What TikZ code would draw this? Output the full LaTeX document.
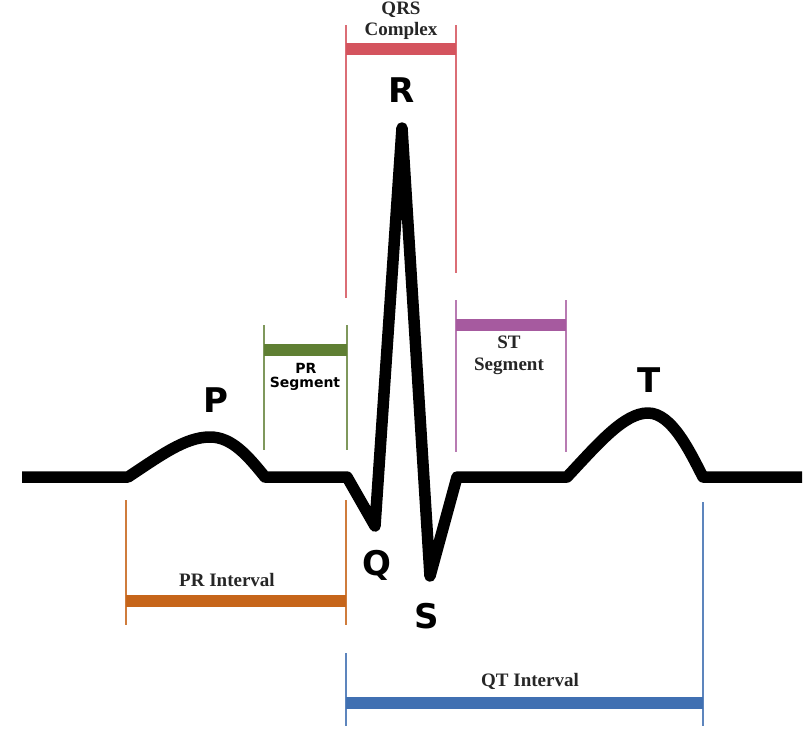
\documentclass[tikz,border=0pt]{standalone}
\usepackage{fontspec}
\setmainfont{Liberation Serif}
\newfontfamily\djv{DejaVu Sans}
\definecolor{qrsred}{HTML}{D4545E}
\definecolor{prgreen}{HTML}{5F7F33}
\definecolor{stpurple}{HTML}{A65A9F}
\definecolor{prorange}{HTML}{C6651A}
\definecolor{qtblue}{HTML}{4070B2}
\begin{document}
\begin{tikzpicture}[x=1pt,y=-1pt,
  wave/.style={line width=11.5pt, line join=round, line cap=butt},
  tick/.style={line width=1.8pt},
  bar/.style={line width=11.5pt, line cap=butt},
  wavelbl/.style={font=\djv\bfseries\fontsize{34}{34}\selectfont, inner sep=0pt, anchor=base},
  seglbl/.style={font=\djv\bfseries\fontsize{14}{14}\selectfont, inner sep=0pt, anchor=base},
  intlbl/.style={font=\bfseries\fontsize{19}{19}\selectfont, inner sep=0pt, anchor=base, text=black!85}
]
\useasboundingbox (0,0) rectangle (812,745);

% ECG waveform
\draw[wave] (22,477) -- (128,477)
  .. controls (160,456) and (185,437) .. (210,437)
  .. controls (232,437) and (248,456) .. (265,477)
  -- (347,477) -- (375,526) -- (402,128) -- (430,576) -- (457,477) -- (567,477)
  .. controls (598,444) and (624,413) .. (648,413)
  .. controls (672,413) and (690,452) .. (703,477) -- (802,477);

% QRS complex
\coordinate (qrsA) at (346,49);
\coordinate (qrsB) at (456,49);
\draw[tick, qrsred!85] (346,25) -- (346,298);
\draw[tick, qrsred!85] (456,25) -- (456,273);
\draw[bar, qrsred] (qrsA) -- (qrsB);
\node[intlbl] (qrs1) at (401,14.5) {QRS};
\node[intlbl] (qrs2) at (401,35) {Complex};

% PR segment
\coordinate (prsA) at (264,350);
\coordinate (prsB) at (347,350);
\draw[tick, prgreen!80] (264,325) -- (264,450);
\draw[tick, prgreen!80] (347,325) -- (347,450);
\draw[bar, prgreen] (prsA) -- (prsB);
\node[seglbl] (prs1) at (306,373) {PR};
\node[seglbl] (prs2) at (305,387) {Segment};

% ST segment
\coordinate (stA) at (456,325);
\coordinate (stB) at (566,325);
\draw[tick, stpurple!80] (456,300) -- (456,452);
\draw[tick, stpurple!80] (566,300) -- (566,452);
\draw[bar, stpurple] (stA) -- (stB);
\node[intlbl] (st1) at (509,348) {ST};
\node[intlbl] (st2) at (509,370) {Segment};

% PR interval
\coordinate (priA) at (126,601);
\coordinate (priB) at (346,601);
\draw[tick, prorange!85] (126,500) -- (126,625);
\draw[tick, prorange!85] (346,500) -- (346,625);
\draw[bar, prorange] (priA) -- (priB);
\node[intlbl] (pri) at (227,586) {PR Interval};

% QT interval
\coordinate (qtA) at (346,703);
\coordinate (qtB) at (703,703);
\draw[tick, qtblue!85] (346,653) -- (346,726);
\draw[tick, qtblue!85] (703,502) -- (703,726);
\draw[bar, qtblue] (qtA) -- (qtB);
\node[intlbl] (qti) at (530,686) {QT Interval};

% wave labels
\node[wavelbl] (P) at (216,412) {P};
\node[wavelbl] (Q) at (377,575) {Q};
\node[wavelbl] (R) at (402,102) {R};
\node[wavelbl] (S) at (427,628) {S};
\node[wavelbl] (T) at (649,392) {T};
\end{tikzpicture}
\end{document}
